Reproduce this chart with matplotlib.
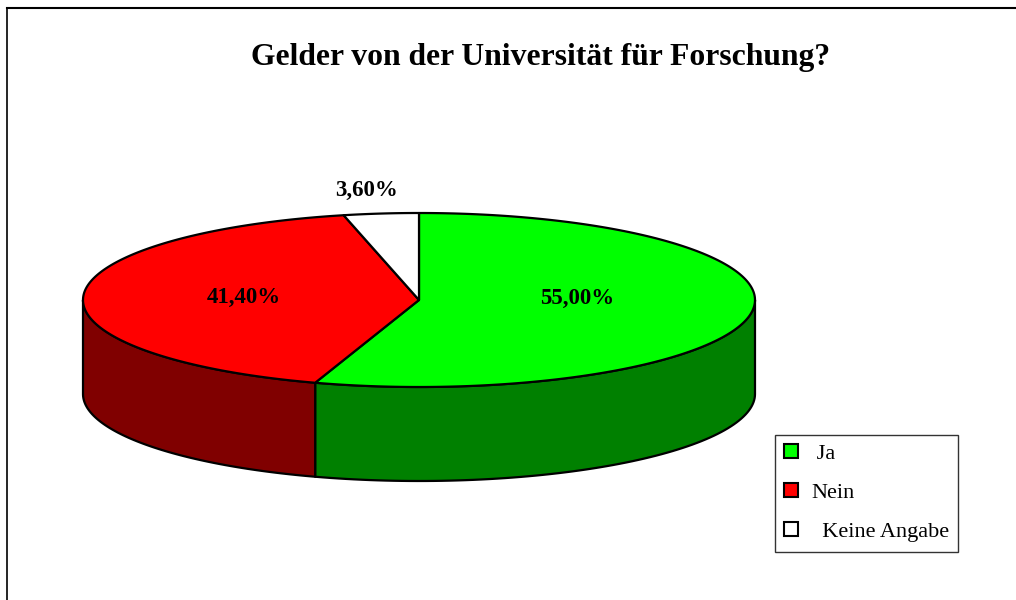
import numpy as np
import matplotlib.pyplot as plt
from matplotlib.patches import Polygon, Patch

# data
labels = ['Ja', 'Nein', 'Keine Angabe']
legend_labels = [' Ja', 'Nein', '  Keine Angabe']
values = [55.0, 41.4, 3.6]
value_labels = ['55,00%', '41,40%', '3,60%']
top_colors = ['#00ff00', '#ff0000', '#ffffff']
side_colors = ['#008000', '#800000', '#c0c0c0']
title = 'Gelder von der Universität für Forschung?'

# pie geometry in pixel coordinates
cx, cy = 419, 300
rx, ry = 336, 87
depth = 94

fig = plt.figure(figsize=(10.16, 6.0), dpi=100)
ax = fig.add_axes([0, 0, 1, 1])
ax.set_xlim(0, 1016)
ax.set_ylim(600, 0)
ax.axis('off')


def ell(a_deg, dz=0):
    a = np.radians(a_deg)
    return cx + rx * np.cos(a), cy - ry * np.sin(a) + dz


# slice angles, clockwise from 12 o'clock
fracs = np.array(values) / sum(values)
starts = 90 - 360 * np.concatenate([[0], np.cumsum(fracs)[:-1]])
ends = starts - 360 * fracs

# side walls: only the front half (angles -180..0) is visible
for s, e, sc in zip(starts, ends, side_colors):
    for off in (0, -360, 360):
        a0 = max(e + off, -180)
        a1 = min(s + off, 0)
        if a1 > a0:
            ang = np.linspace(a1, a0, 80)
            top = np.array([ell(a) for a in ang])
            bot = np.array([ell(a, depth) for a in ang[::-1]])
            ax.add_patch(Polygon(np.vstack([top, bot]), closed=True,
                                 facecolor=sc, edgecolor='black', lw=1.6,
                                 joinstyle='round', zorder=1))

# top faces
for s, e, tc in zip(starts, ends, top_colors):
    ang = np.linspace(s, e, 200)
    pts = np.array([ell(a) for a in ang])
    pts = np.vstack([[cx, cy], pts])
    ax.add_patch(Polygon(pts, closed=True, facecolor=tc, edgecolor='black',
                         lw=1.6, joinstyle='round', zorder=2))

# value labels
label_pos = [(577, 298), (244, 297), (367, 190)]
for (x, y), t in zip(label_pos, value_labels):
    ax.text(x, y, t, ha='center', va='center', fontsize=16.5,
            fontweight='bold', family='Liberation Serif', zorder=3)

ax.text(541, 57, title, ha='center', va='center', fontsize=22.8,
        fontweight='bold', family='Liberation Serif')

# chart border (top and left only visible)
ax.plot([7, 1016], [8, 8], color='black', lw=1.5)
ax.plot([7, 7], [8, 600], color='black', lw=1.2)

handles = [Patch(facecolor=c, edgecolor='black', lw=1.5) for c in top_colors]
leg = ax.legend(handles, legend_labels, loc='upper left',
                bbox_to_anchor=(775 / 1016, 1 - 435 / 600),
                frameon=True, fancybox=False, borderaxespad=0,
                prop={'family': 'Liberation Serif', 'size': 16},
                handlelength=0.6, handleheight=0.6, labelspacing=0.86,
                handletextpad=0.6, borderpad=0.42)
leg.get_frame().set_edgecolor('black')
leg.get_frame().set_linewidth(1.0)

fig.savefig('out.png', dpi=100)
